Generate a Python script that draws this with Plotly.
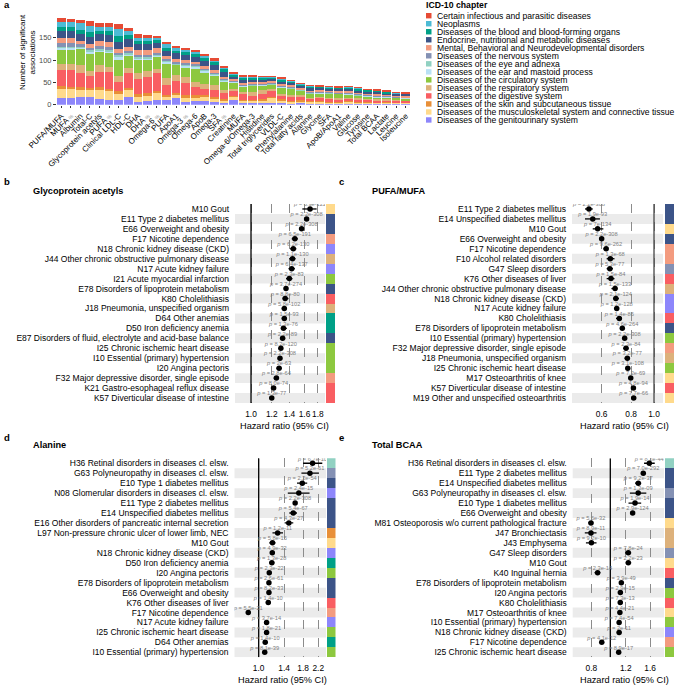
import plotly.graph_objects as go

FONT = "Liberation Sans, Arial, Helvetica, sans-serif"
W, H = 675, 686

# ---------------- Panel a data ----------------
metabolites = ["PUFA/MUFA", "MUFA %", "Albumin", "Total-C", "Glycoprotein acetyls", "PUFA %",
               "Clinical LDL-C", "HDL-C", "DHA", "DHA %", "Omega-6 %", "PUFA", "ApoA1", "Omega-3 %",
               "Omega-6", "ApoB", "Omega-3", "SFA %", "Creatinine", "MUFA", "Omega-6/Omega-3",
               "Histidine", "Total triglycerides", "VLDL-C", "Phenylalanine", "Total fatty acids",
               "Alanine", "Glycine", "SFA", "ApoB/ApoA1", "Valine", "Glucose", "Tyrosine",
               "Total BCAA", "Lactate", "Leucine", "Isoleucine"]

genitourinary = [14,15,18,18,12,10,11,18,7,8,10,10,16,5,9,8,6,4,10,3,3,3,3,6,3,3,3,2,2,2,3,2,2,2,2,2,2]
musculoskeletal = [21,20,16,14,22,22,14,16,11,12,17,8,6,11,8,10,7,6,8,6,6,7,12,4,4,5,4,5,4,3,4,3,3,3,2,2,2]
skin = [6,5,6,5,5,4,5,4,7,6,4,4,4,6,4,3,4,3,2,2,2,2,2,2,2,2,1,1,1,1,1,1,1,1,1,1,1]
digestive = [37,38,30,27,35,38,21,34,33,35,39,22,28,26,18,14,17,13,10,13,9,13,15,8,8,8,6,7,6,6,5,6,5,4,5,4,4]
respiratory = [14,13,19,12,14,11,14,10,13,14,10,15,12,14,12,11,10,8,6,5,9,8,3,4,5,3,2,2,3,2,2,2,2,2,2,1,1]
circulatory = [32,33,36,39,31,32,37,28,30,26,27,34,23,22,31,27,21,18,13,12,14,11,10,14,14,10,9,9,9,10,8,6,6,5,5,5,4]
ear = [3,3,3,4,3,3,4,3,3,3,3,3,2,3,3,3,2,2,2,1,1,1,1,2,1,1,1,1,1,1,2,1,1,1,1,1,1]
eye = [3,3,3,4,3,3,5,3,3,3,2,3,2,2,3,3,2,2,2,1,1,1,1,1,1,1,1,1,1,1,1,1,1,1,1,1,1]
nervous = [7,7,4,5,6,6,5,5,5,5,4,4,3,4,3,3,3,3,2,2,2,2,2,2,2,2,2,2,2,2,2,2,2,2,1,1,1]
mental = [13,13,7,7,12,12,8,9,10,10,10,6,6,7,5,4,5,4,3,3,3,3,3,3,3,2,2,2,2,2,2,2,2,2,2,2,2]
endocrine = [15,15,16,16,15,15,17,17,13,13,12,12,13,12,11,12,12,11,6,8,7,6,6,7,6,6,8,6,6,6,7,6,5,6,4,5,5]
blood = [10,10,10,12,8,9,13,8,8,7,6,7,6,6,6,6,6,5,3,4,3,3,2,3,3,2,2,2,2,2,2,4,3,2,3,1,1]
neoplasms = [10,9,14,14,9,10,16,10,7,7,6,8,6,5,6,6,5,5,2,3,3,2,2,2,2,2,1,1,1,1,1,2,1,1,1,1,1]
infectious = [8,8,8,10,7,7,10,7,8,7,4,5,4,5,4,3,4,3,2,2,2,1,1,2,1,1,1,1,1,1,1,1,1,1,1,1,1]

chapter_names = ["Certain infectious and parasitic diseases", "Neoplasms",
                 "Diseases of the blood and blood-forming organs",
                 "Endocrine, nutritional and metabolic diseases",
                 "Mental, Behavioral and Neurodevelopmental disorders",
                 "Diseases of the nervous system", "Diseases of the eye and adnexa",
                 "Diseases of the ear and mastoid process", "Diseases of the circulatory system",
                 "Diseases of the respiratory system", "Diseases of the digestive system",
                 "Diseases of the skin and subcutaneous tissue",
                 "Diseases of the musculoskeletal system and connective tissue",
                 "Diseases of the genitourinary system"]
chapter_keys = ["inf", "neo", "blood", "endo", "mental", "nerv", "eye", "ear", "circ", "resp",
                "dig", "skin", "musc", "gu"]
chapter_colors = ["#E64B35", "#4DBBD5", "#00A087", "#3C5488", "#F39B7F", "#8491B4", "#91D1C2",
                  "#B9E1F5", "#8DC83F", "#DDB17B", "#F95E62", "#E88F38", "#FFDA8C", "#8D86FB"]
chapter_values = [infectious, neoplasms, blood, endocrine, mental, nervous, eye, ear, circulatory,
                  respiratory, digestive, skin, musculoskeletal, genitourinary]
color_of = dict(zip(chapter_keys, chapter_colors))

# ---------------- Forest data ----------------
b_title = "Glycoprotein acetyls"
b_labels = ["M10 Gout", "E11 Type 2 diabetes mellitus", "E66 Overweight and obesity",
            "F17 Nicotine dependence", "N18 Chronic kidney disease (CKD)",
            "J44 Other chronic obstructive pulmonary disease", "N17 Acute kidney failure",
            "I21 Acute myocardial infarction", "E78 Disorders of lipoprotein metabolism",
            "K80 Cholelithiasis", "J18 Pneumonia, unspecified organism", "D64 Other anemias",
            "D50 Iron deficiency anemia",
            "E87 Disorders of fluid, electrolyte and acid-base balance",
            "I25 Chronic ischemic heart disease", "I10 Essential (primary) hypertension",
            "I20 Angina pectoris", "F32 Major depressive disorder, single episode",
            "K21 Gastro-esophageal reflux disease", "K57 Diverticular disease of intestine"]
b_hr = [1.68, 1.63, 1.56, 1.47, 1.45, 1.44, 1.43, 1.40, 1.36, 1.35, 1.34, 1.34, 1.33, 1.32, 1.30,
        1.29, 1.28, 1.25, 1.22, 1.20]
b_lo = [1.57, 1.60, 1.53, 1.43, 1.41, 1.40, 1.39, 1.36, 1.34, 1.32, 1.31, 1.31, 1.30, 1.29, 1.28,
        1.28, 1.25, 1.22, 1.19, 1.18]
b_hi = [1.78, 1.66, 1.59, 1.51, 1.49, 1.48, 1.47, 1.44, 1.38, 1.39, 1.37, 1.37, 1.37, 1.35, 1.32,
        1.30, 1.31, 1.28, 1.24, 1.22]
b_p = ["6.9e-122", "2.2e-308", "2.2e-308", "6.5e-191", "6.2e-130", "1.1e-130", "6.4e-137",
       "2.3e-83", "3.7e-274", "8.8e-80", "5.8e-102", "1.5e-93", "1.3e-76", "2.2e-89", "8.2e-120",
       "2.2e-308", "2e-63", "2.8e-64", "8.0e-74", "1.3e-77"]
b_chap = ["musc", "endo", "endo", "mental", "gu", "resp", "gu", "circ", "endo", "dig", "resp",
          "blood", "blood", "endo", "circ", "circ", "circ", "mental", "dig", "dig"]
b_ticks = [1.0, 1.2, 1.4, 1.6, 1.8]

c_title = "PUFA/MUFA"
c_labels = ["E11 Type 2 diabetes mellitus", "E14 Unspecified diabetes mellitus", "M10 Gout",
            "E66 Overweight and obesity", "F17 Nicotine dependence", "F10 Alcohol related disorders",
            "G47 Sleep disorders", "K76 Other diseases of liver",
            "J44 Other chronic obstructive pulmonary disease", "N18 Chronic kidney disease (CKD)",
            "N17 Acute kidney failure", "K80 Cholelithiasis",
            "E78 Disorders of lipoprotein metabolism", "I10 Essential (primary) hypertension",
            "F32 Major depressive disorder, single episode", "J18 Pneumonia, unspecified organism",
            "I25 Chronic ischemic heart disease", "M17 Osteoarthritis of knee",
            "K57 Diverticular disease of intestine", "M19 Other and unspecified osteoarthritis"]
c_hr = [0.530, 0.550, 0.577, 0.600, 0.627, 0.653, 0.650, 0.657, 0.684, 0.689, 0.695, 0.713, 0.734,
        0.751, 0.761, 0.771, 0.774, 0.797, 0.818, 0.820]
c_lo = [0.51, 0.51, 0.55, 0.59, 0.61, 0.63, 0.63, 0.63, 0.66, 0.67, 0.68, 0.69, 0.72, 0.745, 0.74,
        0.75, 0.76, 0.78, 0.80, 0.80]
c_hi = [0.55, 0.59, 0.61, 0.61, 0.64, 0.68, 0.67, 0.68, 0.70, 0.71, 0.71, 0.73, 0.745, 0.758, 0.78,
        0.79, 0.79, 0.815, 0.835, 0.84]
c_p = ["2.2e-308", "1.9e-93", "7e-134", "2.2e-308", "9.6e-262", "1.3e-68", "5.3e-77", "1.5e-84",
       "1.5e-133", "2.1e-124", "1.2e-128", "1.4e-86", "4.6e-264", "2.2e-308", "2.3e-84", "3.2e-77",
       "3.1e-108", "7.2e-69", "4.8e-94", "7.7e-66"]
c_chap = ["endo", "endo", "musc", "endo", "mental", "mental", "nerv", "dig", "resp", "gu", "gu",
          "dig", "endo", "circ", "mental", "resp", "circ", "musc", "dig", "musc"]
c_ticks = [0.6, 0.8, 1.0]

d_title = "Alanine"
d_labels = ["H36 Retinal disorders in diseases cl. elsw.", "G63 Polyneuropathy in diseases cl. elsw.",
            "E10 Type 1 diabetes mellitus", "N08 Glomerular disorders in diseases cl. elsw.",
            "E11 Type 2 diabetes mellitus", "E14 Unspecified diabetes mellitus",
            "E16 Other disorders of pancreatic internal secretion",
            "L97 Non-pressure chronic ulcer of lower limb, NEC", "M10 Gout",
            "N18 Chronic kidney disease (CKD)", "D50 Iron deficiency anemia", "I20 Angina pectoris",
            "E78 Disorders of lipoprotein metabolism", "E66 Overweight and obesity",
            "K76 Other diseases of liver", "F17 Nicotine dependence", "N17 Acute kidney failure",
            "I25 Chronic ischemic heart disease", "D64 Other anemias",
            "I10 Essential (primary) hypertension"]
d_hr = [2.04, 1.97, 1.78, 1.70, 1.62, 1.58, 1.49, 1.285, 1.20, 1.197, 1.19, 1.15, 1.145, 1.145,
        1.135, 0.871, 1.11, 1.11, 1.09, 1.083]
d_lo = [1.80, 1.76, 1.66, 1.47, 1.59, 1.50, 1.41, 1.20, 1.15, 1.16, 1.15, 1.12, 1.13, 1.12, 1.10,
        0.85, 1.08, 1.09, 1.06, 1.075]
d_hi = [2.32, 2.22, 1.90, 1.96, 1.65, 1.66, 1.58, 1.38, 1.25, 1.23, 1.23, 1.18, 1.16, 1.17, 1.17,
        0.89, 1.14, 1.13, 1.12, 1.09]
d_p = ["6.7e-10", "5.2e-61", "2.2e-54", "2.4e-15", "2.2e-308", "5.4e-67", "4.3e-27", "1.2e-11",
       "5.8e-15", "4.9e-32", "1.3e-28", "2.3e-22", "2.6e-61", "8.2e-33", "1.4e-10", "5.5e-21",
       "3.7e-14", "1.8e-21", "1.4e-10", "8.1e-39"]
d_chap = ["eye", "nerv", "endo", "gu", "endo", "endo", "endo", "skin", "musc", "gu", "blood", "circ",
          "endo", "endo", "dig", "mental", "gu", "circ", "blood", "circ"]
d_ticks = [1.0, 1.4, 1.8, 2.2]

e_title = "Total BCAA"
e_labels = ["H36 Retinal disorders in diseases cl. elsw.", "E11 Type 2 diabetes mellitus",
            "E14 Unspecified diabetes mellitus", "G63 Polyneuropathy in diseases cl. elsw.",
            "E10 Type 1 diabetes mellitus", "E66 Overweight and obesity",
            "M81 Osteoporosis w/o current pathological fracture", "J47 Bronchiectasis",
            "J43 Emphysema", "G47 Sleep disorders", "M10 Gout", "K40 Inguinal hernia",
            "E78 Disorders of lipoprotein metabolism", "I20 Angina pectoris", "K80 Cholelithiasis",
            "M17 Osteoarthritis of knee", "I10 Essential (primary) hypertension",
            "N18 Chronic kidney disease (CKD)", "F17 Nicotine dependence",
            "I25 Chronic ischemic heart disease"]
e_hr = [1.585, 1.476, 1.392, 1.39, 1.339, 1.302, 0.796, 0.796, 0.80, 1.237, 1.237, 0.861, 1.139,
        1.126, 1.125, 1.12, 1.11, 1.11, 0.904, 1.104]
e_lo = [1.49, 1.45, 1.34, 1.26, 1.24, 1.28, 0.77, 0.74, 0.75, 1.19, 1.20, 0.83, 1.12, 1.10, 1.10,
        1.10, 1.10, 1.08, 0.88, 1.09]
e_hi = [1.69, 1.50, 1.44, 1.53, 1.44, 1.33, 0.82, 0.85, 0.85, 1.28, 1.28, 0.89, 1.16, 1.15, 1.15,
        1.14, 1.12, 1.14, 0.93, 1.12]
e_p = ["8.2e-44", "7.0e-292", "9.2e-37", "1.3e-09", "1.9e-14", "2.9e-124", "5.6e-32", "8.9e-11",
       "9.2e-10", "7.8e-24", "2.2e-23", "2.3e-14", "3.9e-49", "2.9e-15", "7.3e-13", "4.4e-21",
       "7.4e-54", "2e-11", "4.1e-12", "8.9e-17"]
e_chap = ["eye", "endo", "endo", "nerv", "endo", "endo", "musc", "resp", "resp", "nerv", "musc",
          "dig", "endo", "circ", "dig", "musc", "circ", "gu", "mental", "circ"]
e_ticks = [0.8, 1.2, 1.6]


# ---------------- helpers ----------------
def px(x):
    return x / W


def py(y):
    return 1 - y / H


fig = go.Figure()
annotations = []
shapes = []


def ann(text, x, y, size, bold=False, xanchor="left", yanchor="middle", color="black", angle=0):
    if bold:
        text = "<b>" + text + "</b>"
    annotations.append(dict(text=text, x=px(x), y=py(y), xref="paper", yref="paper",
                            showarrow=False, xanchor=xanchor, yanchor=yanchor, textangle=angle,
                            borderpad=0,
                            font=dict(size=size, color=color, family=FONT)))


# ---------------- Panel a ----------------
for name, key, col, vals in reversed(list(zip(chapter_names, chapter_keys, chapter_colors, chapter_values))):
    fig.add_trace(go.Bar(x=metabolites, y=vals, name=name, marker=dict(color=col, line=dict(width=0)),
                         xaxis="x", yaxis="y", showlegend=False, hoverinfo="skip"))


def fmt_label(m):
    if m.endswith(" %"):
        return m[:-2] + " <span style='font-size:5px;color:#888888'>%</span>"
    return m


layout_axes = dict(
    xaxis=dict(domain=[px(56.5), px(410.5)], anchor="y", type="category", tickangle=-45,
               tickmode="array", tickvals=metabolites, ticktext=[fmt_label(m) for m in metabolites],
               tickfont=dict(size=8, color="black", family=FONT), ticks="outside", ticklen=2.5,
               tickcolor="#333333", showline=False, showgrid=False, zeroline=False,
               automargin=False),
    yaxis=dict(domain=[py(104.7), py(14)], anchor="x", range=[0, 203], tickvals=[0, 50, 100, 150],
               tickfont=dict(size=7.5, color="#4d4d4d", family=FONT), ticks="outside", ticklen=2.5,
               tickcolor="#333333", showline=False, showgrid=False, zeroline=False,
               automargin=False),
)

ann("Number of significant<br>associations", 27, 52, 8, angle=-90, xanchor="center")

# legend (manual)
ann("ICD-10 chapter", 425, 4.5, 8.7, bold=True)
for i, (name, col) in enumerate(zip(chapter_names, chapter_colors)):
    yc = 15.7 + 8.02 * i
    shapes.append(dict(type="rect", xref="paper", yref="paper", x0=px(426), x1=px(431.5),
                       y0=py(yc + 2.7), y1=py(yc - 2.7), fillcolor=col, line=dict(width=0)))
    ann(name, 435.5, yc, 8.6)


# ---------------- Forest panels ----------------
def add_forest(ax_n, title, labels, hr, lo, hi, pv, chap, ticks, xdom, sdom, ydom, lrange,
               title_xy, axis_title_xy, refcolor="black"):
    n = len(labels)
    xa = "x%d" % ax_n
    ya = "y%d" % ax_n
    xs = "x%d" % (ax_n + 1)
    idx = list(range(n))
    # alternating bands
    for i in idx:
        if i % 2 == 1:
            shapes.append(dict(type="rect", xref=xa + " domain", yref=ya, x0=0, x1=1,
                               y0=i - 0.5, y1=i + 0.5, fillcolor="#EBEBEB", line=dict(width=0),
                               layer="below"))
    # reference line at HR = 1
    fig.add_trace(go.Scatter(x=[1, 1], y=[-0.5, n - 0.5], mode="lines",
                             line=dict(color=refcolor, width=1.3), xaxis=xa, yaxis=ya,
                             showlegend=False, hoverinfo="skip"))
    # p-value texts
    fig.add_trace(go.Scatter(x=hr, y=[i - 0.42 for i in idx], mode="text",
                             text=["<i>p</i> = " + p for p in pv], textposition="middle center",
                             textfont=dict(size=5.7, color="#808080", family=FONT),
                             xaxis=xa, yaxis=ya, showlegend=False, hoverinfo="skip"))
    # points with CI
    fig.add_trace(go.Scatter(x=hr, y=idx, mode="markers",
                             marker=dict(color="black", size=5.5),
                             error_x=dict(type="data", symmetric=False,
                                          array=[h - m for h, m in zip(hi, hr)],
                                          arrayminus=[m - l for m, l in zip(hr, lo)],
                                          width=0, thickness=1.3, color="black"),
                             xaxis=xa, yaxis=ya, showlegend=False, hoverinfo="skip"))
    # chapter strip
    fig.add_trace(go.Bar(x=[1] * n, y=idx, orientation="h", width=1,
                         marker=dict(color=[color_of[c] for c in chap], line=dict(width=0)),
                         xaxis=xs, yaxis=ya, showlegend=False, hoverinfo="skip"))
    layout_axes["xaxis%d" % ax_n] = dict(
        domain=[px(xdom[0]), px(xdom[1])], anchor=ya, type="log", range=lrange,
        tickmode="array", tickvals=ticks, ticktext=["%.1f" % t for t in ticks], tickangle=0,
        tickfont=dict(size=8.4, color="black", family=FONT), ticks="outside", ticklen=3,
        tickcolor="rgba(0,0,0,0)", showgrid=True, gridcolor="#8c8c8c", griddash="dash",
        gridwidth=0.8, zeroline=False, showline=False, automargin=False)
    layout_axes["yaxis%d" % ax_n] = dict(
        domain=[py(ydom[1]), py(ydom[0])], anchor=xa, range=[n - 0.5, -0.5],
        tickmode="array", tickvals=idx, ticktext=labels,
        tickfont=dict(size=8.5, color="black", family=FONT), ticks="", ticklabelstandoff=5,
        showgrid=False, zeroline=False, showline=False, automargin=False)
    layout_axes["xaxis%d" % (ax_n + 1)] = dict(
        domain=[px(sdom[0]), px(sdom[1])], anchor=ya, range=[0, 1], visible=False,
        showgrid=False, zeroline=False, automargin=False)
    ann(title, title_xy[0], title_xy[1], 9.2, bold=True)
    ann("Hazard ratio (95% CI)", axis_title_xy[0], axis_title_xy[1], 9.2, xanchor="center")


add_forest(2, b_title, b_labels, b_hr, b_lo, b_hi, b_p, b_chap, b_ticks,
           (235, 325), (326, 335), (204, 403), [-0.0611, 0.2824], (32, 191), (284, 426))
add_forest(4, c_title, c_labels, c_hr, c_lo, c_hi, c_p, c_chap, c_ticks,
           (572, 663), (664.5, 674), (204, 403), [-0.3475, 0.0381], (370.5, 190.5), (624, 426),
           refcolor="#444444")
add_forest(6, d_title, d_labels, d_hr, d_lo, d_hi, d_p, d_chap, d_ticks,
           (234.5, 326), (327, 335.5), (458.3, 657.3), [-0.1391, 0.3868], (32, 445), (282, 680))
add_forest(8, e_title, e_labels, e_hr, e_lo, e_hi, e_p, e_chap, e_ticks,
           (572.7, 664), (665, 674), (458.3, 657.3), [-0.1928, 0.2754], (370.5, 445), (624.5, 680))

# panel letters
for letter, x, y in [("a", 3, 4.5), ("b", 3, 181), ("c", 338, 181), ("d", 3, 437), ("e", 338, 437)]:
    ann(letter, x, y, 9.5, bold=True)

fig.update_layout(
    template="none",
    width=W, height=H, margin=dict(l=0, r=0, t=0, b=0, pad=0, autoexpand=False),
    paper_bgcolor="white", plot_bgcolor="rgba(0,0,0,0)",
    barmode="stack", bargap=0.1, showlegend=False,
    font=dict(family=FONT, size=9, color="black"),
    annotations=annotations, shapes=shapes,
    **layout_axes,
)

fig.write_html("out.html", config={"displayModeBar": False},
               post_script="document.body.style.margin='0';document.body.style.overflow='hidden';")
